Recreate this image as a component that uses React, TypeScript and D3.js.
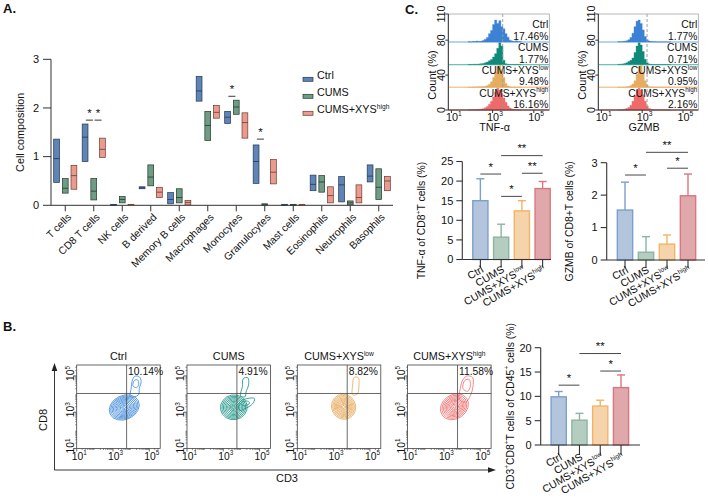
import React from "react";
import * as d3 from "d3";

const FONT = "'Liberation Sans', Arial, Helvetica, sans-serif";

// ---------- A. cell composition: [min, mean, max]
const cellTypes = ["T cells", "CD8 T cells", "NK cells", "B derived", "Memory B cells", "Macrophages", "Monocytes", "Granulocytes", "Mast cells", "Eosinophils", "Neutrophils", "Basophils"];
const groupsA = ["Ctrl", "CUMS", "CUMS+XYS^high^"];
const ctrlComp = [[0.47, 0.96, 1.36], [0.9, 1.4, 1.67], [0, 0.01, 0.02], [0.34, 0.36, 0.38], [0.03, 0.12, 0.26], [2.14, 2.35, 2.65], [1.68, 1.81, 1.93], [0.45, 0.9, 1.24], [0, 0.01, 0.02], [0.3, 0.43, 0.62], [0.07, 0.42, 0.59], [0.48, 0.6, 0.83]];
const cumsComp = [[0.25, 0.35, 0.55], [0.11, 0.29, 0.55], [0.05, 0.12, 0.18], [0.4, 0.58, 0.83], [0.05, 0.16, 0.34], [1.33, 1.64, 1.93], [1.87, 2.02, 2.16], [0, 0.02, 0.03], [0, 0.01, 0.02], [0.27, 0.48, 0.61], [0.01, 0.05, 0.09], [0.12, 0.37, 0.75]];
const xysHighComp = [[0.33, 0.61, 0.82], [0.98, 1.15, 1.38], [0, 0.01, 0.02], [0.16, 0.27, 0.37], [0.01, 0.06, 0.1], [1.79, 1.91, 2.05], [1.38, 1.7, 1.9], [0.44, 0.68, 0.94], [0, 0.01, 0.02], [0.05, 0.2, 0.38], [0.05, 0.16, 0.42], [0.3, 0.5, 0.59]];
const compTicks = [0, 1, 2, 3];
const sigA = [
  { cat: "CD8 T cells", a: 0, b: 1, y: 1.75, label: "*" },
  { cat: "CD8 T cells", a: 1, b: 2, y: 1.75, label: "*" },
  { cat: "Monocytes", a: 0, b: 1, y: 2.24, label: "*" },
  { cat: "Granulocytes", a: 0, b: 1, y: 1.36, label: "*" },
];

// ---------- C. histograms (log10 bins, % of mode)
const histBins = [1.8, 1.9, 2.0, 2.1, 2.2, 2.3, 2.4, 2.5, 2.6, 2.7, 2.8, 2.9, 3.0, 3.1, 3.2, 3.3, 3.4, 3.5, 3.6, 3.7, 3.8, 3.9, 4.0, 4.1, 4.2, 4.3, 4.4];
const groups = ["Ctrl", "CUMS", "CUMS+XYS^low^", "CUMS+XYS^high^"];
const tnfPct = ["17.46%", "1.77%", "9.48%", "16.16%"];
const gzmbPct = ["1.77%", "0.71%", "0.95%", "2.16%"];
const tnfHist = [
  [1, 0, 2, 1, 4, 2, 3, 6, 12, 20, 38, 52, 80, 100, 84, 97, 70, 60, 38, 22, 8, 4, 2, 5, 2, 1, 0],
  [1, 0, 1, 2, 1, 3, 4, 5, 8, 12, 18, 24, 35, 50, 75, 100, 85, 20, 4, 2, 1, 1, 0, 1, 0, 0, 0],
  [0, 0, 1, 1, 1, 2, 2, 3, 5, 8, 14, 25, 45, 70, 95, 100, 80, 45, 18, 6, 2, 1, 1, 0, 0, 0, 0],
  [0, 1, 1, 1, 2, 3, 4, 6, 10, 16, 26, 40, 60, 82, 100, 92, 75, 55, 35, 18, 9, 5, 3, 2, 1, 0, 0],
];
const gzmbHist = [
  [1, 1, 2, 3, 5, 10, 20, 40, 70, 95, 100, 85, 55, 25, 10, 4, 2, 1, 1, 0, 0, 0, 0, 0, 0, 0, 0],
  [1, 2, 3, 5, 8, 14, 20, 30, 55, 85, 100, 90, 60, 25, 8, 3, 1, 0, 0, 0, 0, 0, 0, 0, 0, 0, 0],
  [0, 0, 0, 0, 2, 4, 8, 15, 30, 60, 95, 100, 70, 30, 10, 3, 1, 0, 0, 0, 0, 0, 0, 0, 0, 0, 0],
  [0, 0, 2, 4, 7, 12, 22, 40, 65, 90, 100, 92, 70, 40, 18, 7, 3, 1, 0, 0, 0, 0, 0, 0, 0, 0, 0],
];
const tnfGate = 3.49;
const gzmbGate = 3.24;
const countTicks = [0, 40, 80, 110];
const decades = [1, 3, 5];

// ---------- C. / B. bar charts
const tnfMean = [15.0, 5.7, 12.4, 18.1];
const tnfSd = [5.6, 3.3, 2.6, 1.8];
const tnfTicks = [0, 5, 10, 15, 20, 25];
const tnfSig = [
  { a: 0, b: 1, y: 21.8, label: "*" },
  { a: 1, b: 2, y: 16.1, label: "*" },
  { a: 2, b: 3, y: 22.0, label: "**" },
  { a: 1, b: 3, y: 26.5, label: "**" },
];
const gzmbMean = [1.54, 0.24, 0.49, 1.98];
const gzmbSd = [0.86, 0.48, 0.28, 0.67];
const gzmbTicks = [0, 1, 2, 3];
const gzmbSig = [
  { a: 0, b: 1, y: 2.62, label: "*" },
  { a: 2, b: 3, y: 2.83, label: "*" },
  { a: 1, b: 3, y: 3.32, label: "**" },
];
const cd8Mean = [9.9, 5.1, 8.0, 11.8];
const cd8Sd = [1.1, 1.4, 1.2, 2.6];
const cd8Ticks = [0, 5, 10, 15, 20];
const cd8Sig = [
  { a: 0, b: 1, y: 12.3, label: "*" },
  { a: 2, b: 3, y: 15.2, label: "*" },
  { a: 1, b: 3, y: 18.8, label: "**" },
];

// ---------- B. contour plots (log10 CD3, log10 CD8)
const cd8Pct = ["10.14%", "4.91%", "8.82%", "11.58%"];
const contourCore = [[3.62, 3.26], [3.58, 3.27], [3.55, 3.3], [3.58, 3.3]];
const contourTilt = [-25, -10, -25, -35];
const contourRings = [
  [[0.86, 0.66], [0.78, 0.6], [0.7, 0.54], [0.62, 0.48], [0.54, 0.42], [0.46, 0.36], [0.38, 0.3], [0.3, 0.24], [0.22, 0.18], [0.14, 0.12], [0.07, 0.06]],
  [[0.74, 0.68], [0.66, 0.61], [0.58, 0.54], [0.5, 0.47], [0.42, 0.4], [0.34, 0.33], [0.26, 0.26], [0.19, 0.19], [0.12, 0.12], [0.06, 0.06]],
  [[0.66, 0.7], [0.59, 0.63], [0.52, 0.56], [0.46, 0.49], [0.4, 0.43], [0.34, 0.37], [0.28, 0.31], [0.22, 0.25], [0.17, 0.19], [0.12, 0.13], [0.07, 0.08]],
  [[0.82, 0.66], [0.73, 0.59], [0.64, 0.52], [0.56, 0.45], [0.48, 0.39], [0.4, 0.33], [0.32, 0.27], [0.24, 0.2], [0.16, 0.14], [0.08, 0.07]],
];
const contourLoops = [
  [
    [[3.95, 3.85], [4.0, 4.3], [4.05, 4.7], [4.2, 4.98], [4.45, 4.95], [4.55, 4.7], [4.45, 4.3], [4.4, 3.95]],
    [[4.1, 4.45], [4.18, 4.75], [4.35, 4.78], [4.42, 4.55], [4.3, 4.35]],
  ],
  [
    [[3.95, 3.9], [4.05, 4.4], [4.1, 4.85], [4.35, 4.9], [4.4, 4.55], [4.25, 4.1], [4.2, 3.85]],
    [[3.9, 3.55], [4.3, 3.75], [4.72, 3.75], [4.6, 3.45], [4.2, 3.2], [3.9, 3.1]],
    [[3.95, 3.5], [4.3, 3.62], [4.45, 3.5], [4.15, 3.35]],
  ],
  [
    [[4.05, 3.95], [4.05, 4.5], [4.12, 4.9], [4.35, 4.92], [4.4, 4.5], [4.3, 4.0]],
  ],
  [
    [[3.85, 3.7], [3.9, 4.3], [4.05, 4.8], [4.3, 5.0], [4.58, 4.9], [4.6, 4.4], [4.45, 3.9], [4.2, 3.55]],
    [[4.05, 4.3], [4.15, 4.75], [4.4, 4.8], [4.45, 4.4], [4.3, 4.15]],
  ],
];
const cd3Gate = 3.75;
const cd8Gate = 4.03;

// ---------- colours
const compFill = ["#5f84b6", "#6f9c85", "#ea9b8d"];
const compStroke = ["#24354f", "#23392d", "#6b3a31"];
const histFill = ["#3b82d6", "#0f8a7a", "#e5ad62", "#f06a6a"];
const histBase = ["#9cc6ee", "#6cc4b8", "#efcb9a", "#f5a8a8"];
const barFill = ["#b3c5dd", "#b5cdc1", "#f6d4ab", "#e0a8ab"];
const barStroke = ["#7d9fcb", "#8bb5a0", "#f1b466", "#d77780"];
const contourColor = ["#3d87d8", "#0e8f80", "#e6a85a", "#ee6b6b"];
const AX = "#333";

function Rich({ text, size, ...rest }: any) {
  const parts = String(text).split("^");
  const shift = size * 0.4;
  return (
    <text fontSize={size} {...rest}>
      {parts.map((p, i) => {
        if (!p) return null;
        const sup = i % 2 === 1;
        const dy = sup ? -shift : i > 0 ? shift : 0;
        return (
          <tspan key={i} dy={dy} fontSize={sup ? size * 0.62 : size}>
            {p}
          </tspan>
        );
      })}
    </text>
  );
}

function Stars({ x, y, label }: any) {
  return (
    <text x={x} y={y - 3.5} textAnchor="middle" fontSize={11.5}>
      {label}
    </text>
  );
}

function PanelA() {
  const x = d3.scaleBand<string>().domain(cellTypes).range([51, 393]);
  const y = d3.scaleLinear().domain([0, 3]).range([205.3, 59.3]);
  const off = d3.scaleBand<number>().domain([0, 1, 2]).range([-13, 13]);
  const series = [ctrlComp, cumsComp, xysHighComp];
  const cx = (cat: string, g: number) => (x(cat) as number) + x.bandwidth() / 2 + (off(g) as number) + off.bandwidth() / 2;
  const bw = 5.8;
  const x0 = x.range()[0];
  return (
    <g>
      <text x={3} y={13} fontSize={13} fontWeight="bold">A.</text>
      <line x1={x0} x2={x0} y1={y(0)} y2={y(3)} stroke={AX} />
      {compTicks.map((t) => (
        <g key={t}>
          <line x1={x0 - 8} x2={x0} y1={y(t)} y2={y(t)} stroke={AX} />
          <text x={x0 - 12} y={y(t)} dy="0.35em" textAnchor="end" fontSize={11}>{t}</text>
        </g>
      ))}
      <text transform={`translate(24,${(y(0) + y(3)) / 2}) rotate(-90)`} textAnchor="middle" fontSize={10.8}>Cell composition</text>
      <line x1={x0} x2={x.range()[1]} y1={y(0)} y2={y(0)} stroke={AX} />
      {cellTypes.map((c) => {
        const tx = (x(c) as number) + x.bandwidth() / 2;
        return (
          <g key={c}>
            <line x1={tx} x2={tx} y1={y(0)} y2={y(0) + 6} stroke={AX} />
            <text transform={`translate(${tx + 4},${y(0) + 10}) rotate(-45)`} textAnchor="end" dy="0.35em" fontSize={10.4}>{c}</text>
          </g>
        );
      })}
      {series.map((s, g) =>
        s.map((d, i) => {
          const c = cx(cellTypes[i], g);
          return (
            <g key={`${g}-${i}`}>
              <rect x={c - bw / 2} y={y(d[2])} width={bw} height={Math.max(0.8, y(d[0]) - y(d[2]))} fill={compFill[g]} stroke={compStroke[g]} strokeWidth={0.7} />
              <line x1={c - bw / 2} x2={c + bw / 2} y1={y(d[1])} y2={y(d[1])} stroke={compStroke[g]} strokeWidth={0.8} />
            </g>
          );
        })
      )}
      {sigA.map((s, i) => {
        const xa = cx(s.cat, s.a) + 0.8;
        const xb = cx(s.cat, s.b) - 0.8;
        return (
          <g key={i}>
            <line x1={xa} x2={xb} y1={y(s.y)} y2={y(s.y)} stroke="#222" strokeWidth={0.9} />
            <Stars x={(xa + xb) / 2} y={y(s.y)} label={s.label} />
          </g>
        );
      })}
      {groupsA.map((g, i) => (
        <g key={g} transform={`translate(303,${79.3 + i * 17})`}>
          <rect x={0} y={-2} width={10} height={4} fill={compFill[i]} stroke={compStroke[i]} strokeWidth={0.7} />
          <Rich text={g} size={10.8} x={14} y={0} dy="0.35em" />
        </g>
      ))}
    </g>
  );
}

function Histo({ x0, width, data, pcts, gate, title }: any) {
  const top = 14;
  const bottom = 110;
  const xs = d3.scaleLog().domain([10 ** 0.85, 10 ** 5.75]).range([x0, x0 + width]);
  const ys = d3.scaleLinear().domain([0, 110]).range([bottom, top]);
  const rowOff = [78, 52, 26, 0];
  return (
    <g>
      <rect x={x0} y={top} width={width} height={bottom - top} fill="none" stroke="#999" strokeWidth={0.7} />
      {data.map((h: number[], r: number) => {
        const area = d3
          .area<number>()
          .x((_, i) => xs(10 ** histBins[i]))
          .y0(ys(rowOff[r]))
          .y1((v) => ys(rowOff[r] + v * 0.25))
          .curve(d3.curveStepAfter);
        return (
          <g key={r}>
            <line x1={x0} x2={x0 + width} y1={ys(rowOff[r])} y2={ys(rowOff[r])} stroke={histBase[r]} strokeWidth={1.4} />
            <path d={area(h) as string} fill={histFill[r]} stroke={histFill[r]} strokeWidth={0.4} />
            <Rich text={groups[r]} size={10.3} x={x0 + width - 1} y={ys(rowOff[r]) - 13.5} textAnchor="end" />
            <text x={x0 + width - 1} y={ys(rowOff[r]) - 2} textAnchor="end" fontSize={10.3}>{pcts[r]}</text>
          </g>
        );
      })}
      <line x1={xs(10 ** gate)} x2={xs(10 ** gate)} y1={top} y2={bottom} stroke="#999" strokeDasharray="3,2" strokeWidth={0.9} />
      <line x1={x0} x2={x0} y1={top} y2={bottom} stroke={AX} />
      <line x1={x0} x2={x0 + width} y1={bottom} y2={bottom} stroke={AX} />
      {countTicks.map((t) => (
        <g key={t}>
          <line x1={x0 - 3} x2={x0} y1={ys(t)} y2={ys(t)} stroke={AX} />
          <text transform={`translate(${x0 - 3},${ys(t)}) rotate(-90)`} textAnchor="middle" fontSize={10.8}>{t}</text>
        </g>
      ))}
      <text transform={`translate(${x0 - 12},75) rotate(-90)`} textAnchor="middle" fontSize={11}>Count (%)</text>
      {decades.map((d) => (
        <g key={d}>
          <line x1={xs(10 ** d)} x2={xs(10 ** d)} y1={bottom} y2={bottom + 3} stroke={AX} />
          <Rich text={`10^${d}^`} size={10.8} x={xs(10 ** d) - 5.5} y={bottom + 10.5} />
        </g>
      ))}
      <text x={xs(10 ** 3) + 2} y={bottom + 21} textAnchor="middle" fontSize={10.8}>{title}</text>
    </g>
  );
}

function BarChart({ mean, sd, sig, yMax, ticks, yBottom, yTop, axisX, bandRange, axisEnd, yLabel, yLabelX, tickDown }: any) {
  const y = d3.scaleLinear().domain([0, yMax]).range([yBottom, yTop]);
  const x = d3.scaleBand<string>().domain(groups).range(bandRange).paddingInner(0.27).paddingOuter(0.135);
  const c = (i: number) => (x(groups[i]) as number) + x.bandwidth() / 2;
  return (
    <g>
      {mean.map((m: number, i: number) => (
        <g key={i}>
          <line x1={c(i)} x2={c(i)} y1={y(m)} y2={y(m + sd[i])} stroke={barStroke[i]} strokeWidth={1.4} />
          <line x1={c(i) - 4} x2={c(i) + 4} y1={y(m + sd[i])} y2={y(m + sd[i])} stroke={barStroke[i]} strokeWidth={1.4} />
          <rect x={x(groups[i])} y={y(m)} width={x.bandwidth()} height={y(0) - y(m)} fill={barFill[i]} stroke={barStroke[i]} strokeWidth={1.4} />
        </g>
      ))}
      <line x1={axisX} x2={axisX} y1={y(0)} y2={y(ticks[ticks.length - 1])} stroke={AX} strokeWidth={1.1} />
      {ticks.map((t: number) => (
        <g key={t}>
          <line x1={axisX - 6} x2={axisX} y1={y(t)} y2={y(t)} stroke={AX} strokeWidth={1.1} />
          <text x={axisX - 9} y={y(t)} dy="0.35em" textAnchor="end" fontSize={11}>{t}</text>
        </g>
      ))}
      <line x1={axisX} x2={axisEnd} y1={y(0)} y2={y(0)} stroke={AX} strokeWidth={1.1} />
      {groups.map((g, i) => (
        <g key={g}>
          <line x1={c(i)} x2={c(i)} y1={y(0)} y2={y(0) + tickDown} stroke={AX} strokeWidth={1.1} />
          <Rich text={g} size={10.6} transform={`translate(${c(i) + 4},${y(0) + tickDown + 4}) rotate(-30)`} textAnchor="end" dy="0.35em" />
        </g>
      ))}
      {sig.map((s: any, i: number) => (
        <g key={i}>
          <line x1={c(s.a)} x2={c(s.b)} y1={y(s.y)} y2={y(s.y)} stroke="#333" strokeWidth={0.9} />
          <Stars x={(c(s.a) + c(s.b)) / 2} y={y(s.y)} label={s.label} />
        </g>
      ))}
      <Rich text={yLabel} size={10.4} transform={`translate(${yLabelX},${(yBottom + yTop) / 2 + 10}) rotate(-90)`} textAnchor="middle" />
    </g>
  );
}

function Contour({ idx, x0, top }: any) {
  const size = 83.5;
  const xs = d3.scaleLog().domain([10, 10 ** 5.6]).range([x0, x0 + size]);
  const ys = d3.scaleLog().domain([10, 10 ** 5.6]).range([top + size, top]);
  const core = contourCore[idx];
  const cxp = xs(10 ** core[0]);
  const cyp = ys(10 ** core[1]);
  const line = d3
    .line<number[]>()
    .x((p) => xs(10 ** p[0]))
    .y((p) => ys(10 ** p[1]))
    .curve(d3.curveCatmullRomClosed);
  const minor: number[] = [];
  for (let e = 1; e < 5.6; e++) for (let k = 2; k <= 9; k++) if (Math.log10(k * 10 ** e) <= 5.6) minor.push(k * 10 ** e);
  const col = contourColor[idx];
  return (
    <g>
      <Rich text={groups[idx]} size={10.8} x={x0 + size / 2} y={top - 5} textAnchor="middle" />
      {contourRings[idx].map((r, i) => (
        <ellipse
          key={i}
          cx={cxp}
          cy={cyp}
          rx={xs(10 ** (core[0] + r[0])) - cxp}
          ry={cyp - ys(10 ** (core[1] + r[1]))}
          transform={`rotate(${contourTilt[idx]} ${cxp} ${cyp})`}
          fill="none"
          stroke={col}
          strokeWidth={0.75}
        />
      ))}
      {contourLoops[idx].map((l, i) => (
        <path key={i} d={line(l) as string} fill="none" stroke={col} strokeWidth={0.8} />
      ))}
      <rect x={x0} y={top} width={size} height={size} fill="none" stroke="#444" strokeWidth={0.8} />
      <line x1={xs(10 ** cd3Gate)} x2={xs(10 ** cd3Gate)} y1={top} y2={top + size} stroke="#444" strokeWidth={0.8} />
      <line x1={x0} x2={x0 + size} y1={ys(10 ** cd8Gate)} y2={ys(10 ** cd8Gate)} stroke="#444" strokeWidth={0.8} />
      <text x={xs(10 ** cd3Gate) + 1.5} y={top + 10} fontSize={10.3}>{cd8Pct[idx]}</text>
      {minor.map((m) => (
        <g key={m}>
          <line x1={xs(m)} x2={xs(m)} y1={top + size} y2={top + size + 1.5} stroke="#444" strokeWidth={0.6} />
          <line x1={x0 - 1.5} x2={x0} y1={ys(m)} y2={ys(m)} stroke="#444" strokeWidth={0.6} />
        </g>
      ))}
      {decades.map((d) => (
        <g key={d}>
          <line x1={xs(10 ** d)} x2={xs(10 ** d)} y1={top + size} y2={top + size + 3} stroke="#444" strokeWidth={0.8} />
          <line x1={x0 - 3} x2={x0} y1={ys(10 ** d)} y2={ys(10 ** d)} stroke="#444" strokeWidth={0.8} />
          <Rich text={`10^${d}^`} size={10.3} x={xs(10 ** d) - 5} y={top + size + 11} />
          <Rich text={`10^${d}^`} size={10.3} transform={`translate(${x0 - 3},${ys(10 ** d) + 5}) rotate(-90)`} />
        </g>
      ))}
    </g>
  );
}

function PanelB() {
  return (
    <g>
      <text x={3} y={331} fontSize={13} fontWeight="bold">B.</text>
      {[0, 1, 2, 3].map((i) => (
        <Contour key={i} idx={i} x0={76.7 + i * 110.3} top={365} />
      ))}
      <line x1={54.5} x2={54.5} y1={470} y2={370} stroke="#222" strokeWidth={0.9} />
      <path d="M54.5,363 L51.7,371 L57.3,371 Z" fill="#222" />
      <line x1={54.5} x2={489} y1={470} y2={470} stroke="#222" strokeWidth={0.9} />
      <path d="M496,470 L488,467.2 L488,472.8 Z" fill="#222" />
      <text transform="translate(47,420) rotate(-90)" textAnchor="middle" fontSize={11}>CD8</text>
      <text x={287} y={482} textAnchor="middle" fontSize={11}>CD3</text>
      <BarChart mean={cd8Mean} sd={cd8Sd} sig={cd8Sig} yMax={20} ticks={cd8Ticks} yBottom={445} yTop={347.7} axisX={540.7} bandRange={[548.3, 631.4]} axisEnd={640} yLabel="CD3^+^CD8^+^T cells of CD45^+^ cells (%)" yLabelX={513.5} tickDown={10} />
    </g>
  );
}

function PanelC() {
  return (
    <g>
      <text x={405} y={14} fontSize={13} fontWeight="bold">C.</text>
      <Histo x0={448.3} width={101} data={tnfHist} pcts={tnfPct} gate={tnfGate} title="TNF-α" />
      <Histo x0={598.3} width={100} data={gzmbHist} pcts={gzmbPct} gate={gzmbGate} title="GZMB" />
      <BarChart mean={tnfMean} sd={tnfSd} sig={tnfSig} yMax={25} ticks={tnfTicks} yBottom={259.5} yTop={161.5} axisX={462.3} bandRange={[470, 553]} axisEnd={551} yLabel="TNF-α of CD8^+^T cells (%)" yLabelX={425} tickDown={8} />
      <BarChart mean={gzmbMean} sd={gzmbSd} sig={gzmbSig} yMax={3} ticks={gzmbTicks} yBottom={260} yTop={162.7} axisX={606.7} bandRange={[614.5, 698.5]} axisEnd={705} yLabel="GZMB of CD8+T cells (%)" yLabelX={573} tickDown={8} />
    </g>
  );
}

export default function App() {
  return (
    <svg width={708} height={499} style={{ position: "absolute", left: 0, top: 0, background: "#fff" }} fontFamily={FONT} fill="#111">
      <PanelA />
      <PanelC />
      <PanelB />
    </svg>
  );
}
